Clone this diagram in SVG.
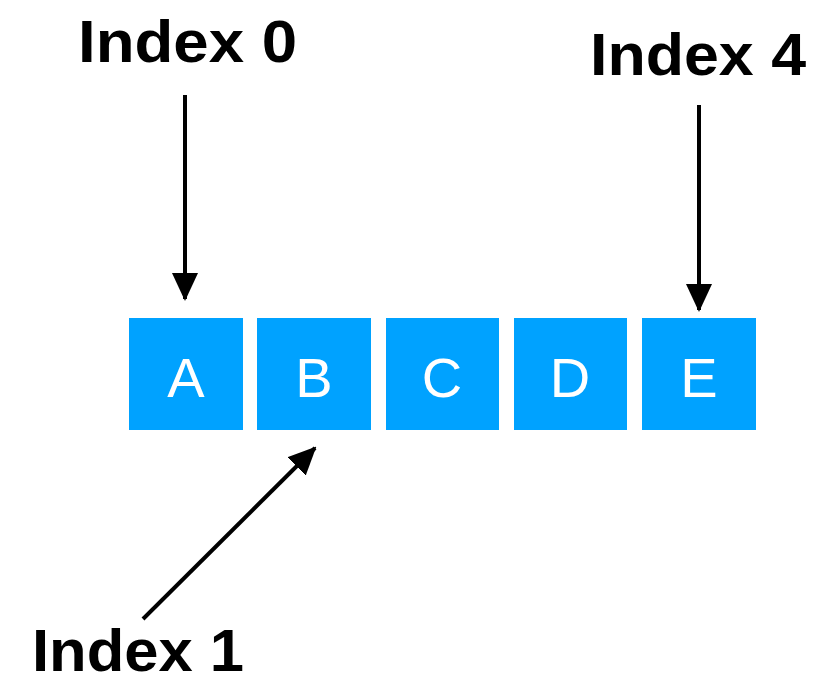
<svg xmlns="http://www.w3.org/2000/svg" width="840" height="680" viewBox="0 0 840 680">
<defs>
<marker id="ah" markerWidth="7" markerHeight="6.5" refX="6.5" refY="3.25" orient="auto" markerUnits="strokeWidth">
<path d="M0,0 L7,3.25 L0,6.5 Z" fill="#000"/>
</marker>
<style>
.box{fill:#00A2FF}
.lt{font-family:"Liberation Sans",Arial,sans-serif;font-size:56px;fill:#fff;text-anchor:middle}
.lbl{font-family:"Liberation Sans",Arial,sans-serif;font-size:60px;font-weight:bold;fill:#000}
.conn{stroke:#000;stroke-width:4;fill:none;marker-end:url(#ah)}
</style>
</defs>
<rect width="840" height="680" fill="#fff"/>
<g id="connectors">
<line class="conn" x1="185" y1="95" x2="185" y2="299"/>
<line class="conn" x1="699" y1="105" x2="699" y2="310"/>
<line class="conn" x1="143" y1="619" x2="315" y2="448"/>
</g>
<g id="nodeA"><rect class="box" x="129" y="318" width="114" height="112"/><text class="lt" x="186" y="397">A</text></g>
<g id="nodeB"><rect class="box" x="257" y="318" width="114" height="112"/><text class="lt" x="314" y="397">B</text></g>
<g id="nodeC"><rect class="box" x="386" y="318" width="113" height="112"/><text class="lt" x="442" y="397">C</text></g>
<g id="nodeD"><rect class="box" x="514" y="318" width="113" height="112"/><text class="lt" x="570" y="397">D</text></g>
<g id="nodeE"><rect class="box" x="642" y="318" width="114" height="112"/><text class="lt" x="699" y="397">E</text></g>
<g id="label0"><text class="lbl" x="78" y="62" textLength="219" lengthAdjust="spacingAndGlyphs">Index 0</text></g>
<g id="label4"><text class="lbl" x="590" y="75" textLength="216" lengthAdjust="spacingAndGlyphs">Index 4</text></g>
<g id="label1"><text class="lbl" x="32" y="671" font-size="58" textLength="212" lengthAdjust="spacingAndGlyphs">Index 1</text></g>
</svg>
